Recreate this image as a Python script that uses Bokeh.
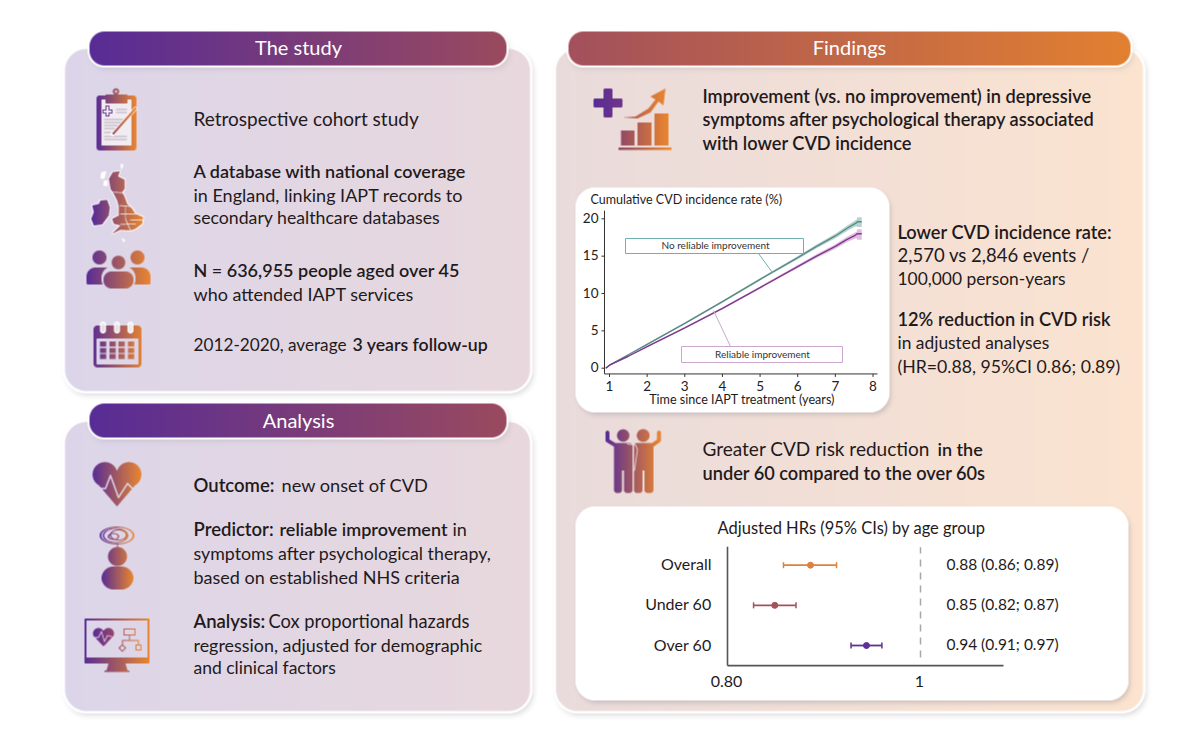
import numpy as np
from bokeh.core.properties import value
from bokeh.embed import file_html
from bokeh.models import Range1d
from bokeh.plotting import figure
from bokeh.resources import INLINE

# ---------- chart data ----------
YEARS = [0.9, 1, 1.5, 2, 3, 4, 5, 6, 6.5, 7, 7.3, 7.5, 7.57, 7.58, 7.7]
NO_IMPROVE = [0, 0.4, 1.8, 3.2, 6.0, 8.9, 11.9, 14.8, 16.3, 17.7, 18.7, 19.3, 19.5, 19.6, 19.6]
NO_IMPROVE_LO = [0, 0.35, 1.72, 3.1, 5.88, 8.77, 11.75, 14.6, 16.05, 17.4, 18.35, 18.9, 19.0, 18.9, 18.9]
NO_IMPROVE_HI = [0, 0.45, 1.88, 3.3, 6.12, 9.03, 12.05, 15.0, 16.55, 18.0, 19.05, 19.7, 19.9, 20.2, 20.2]
IMPROVE = [0, 0.4, 1.6, 2.9, 5.4, 8.0, 10.8, 13.6, 15.0, 16.3, 17.2, 17.7, 17.95, 18.0, 18.0]
IMPROVE_LO = [0, 0.35, 1.52, 2.8, 5.28, 7.87, 10.65, 13.4, 14.75, 16.0, 16.85, 17.3, 17.4, 17.2, 17.2]
IMPROVE_HI = [0, 0.45, 1.68, 3.0, 5.52, 8.13, 10.95, 13.8, 15.25, 16.6, 17.55, 18.1, 18.3, 18.6, 18.6]
YEAR_TICKS = [1, 2, 3, 4, 5, 6, 7, 8]
RATE_TICKS = [0, 5, 10, 15, 20]

AGE_GROUPS = ["Overall", "Under 60", "Over 60"]
ROWS = [3, 2, 1]
HR = [0.886, 0.849, 0.944]
HR_LO = [0.858, 0.827, 0.928]
HR_HI = [0.913, 0.871, 0.960]
HR_TEXT = ["0.88 (0.86; 0.89)", "0.85 (0.82; 0.87)", "0.94 (0.91; 0.97)"]
HR_COLORS = ["#e0813a", "#a4525a", "#5f3096"]
HR_TICKS = [0.8, 1]
HR_TICK_TEXT = ["0.80", "1"]

# ---------- raster decoration (panels, pills, icons) ----------
W, H = 1200, 742
PUR, ORG = (0x58, 0x2c, 0x96), (0xea, 0x86, 0x2e)
yy, xx = np.mgrid[0:H, 0:W] + 0.5
canvas = np.ones((H, W, 3), float) * 255


def rr_sdf(x0, y0, x1, y1, r, X=xx, Y=yy):
    cx, cy, hx, hy = (x0 + x1) / 2, (y0 + y1) / 2, (x1 - x0) / 2 - r, (y1 - y0) / 2 - r
    qx, qy = np.abs(X - cx) - hx, np.abs(Y - cy) - hy
    return np.hypot(np.maximum(qx, 0), np.maximum(qy, 0)) + np.minimum(np.maximum(qx, qy), 0) - r


def comp(color, alpha):
    alpha = alpha[..., None]
    canvas[:] = canvas * (1 - alpha) + np.asarray(color, float) * alpha


def hgrad(c0, c1, x0, x1, X=xx):
    t = np.clip((X - x0) / (x1 - x0), 0, 1)[..., None]
    return np.asarray(c0, float) * (1 - t) + np.asarray(c1, float) * t


def cover(d):
    return np.clip(0.5 - d, 0, 1)


def card(x0, y0, x1, y1, r, c0, c1, rim=2.5, shadow=0.22):
    d = rr_sdf(x0 + 2, y0 + 3, x1 + 2, y1 + 3, r)
    comp((120, 120, 130), shadow * np.clip(1 - (d + 3) / 8, 0, 1) ** 2)
    comp((255, 255, 255), cover(rr_sdf(x0, y0, x1, y1, r)))
    comp(hgrad(c0, c1, x0, x1), cover(rr_sdf(x0 + rim, y0 + rim, x1 - rim, y1 - rim, r - rim)))


card(62, 46, 532, 393, 24, (0xdc, 0xd5, 0xe9), (0xe8, 0xd8, 0xdd))
card(62, 419, 532, 713, 24, (0xdc, 0xd5, 0xe9), (0xe8, 0xd8, 0xdd))
card(553, 46, 1145, 713, 24, (0xe9, 0xdb, 0xdc), (0xfb, 0xe3, 0xcf))
card(87, 29, 508, 67, 17, (0x57, 0x2c, 0x96), (0x9a, 0x4a, 0x5e), rim=2, shadow=0.15)
card(87, 401, 508, 439, 17, (0x57, 0x2c, 0x96), (0x9a, 0x4a, 0x5e), rim=2, shadow=0.15)
card(566, 29, 1132, 67, 17, (0xa2, 0x50, 0x5c), (0xe2, 0x80, 0x30), rim=2, shadow=0.15)
card(575, 187, 889, 412, 20, (255, 255, 255), (255, 255, 255), rim=0, shadow=0.3)
card(575, 506, 1128, 700, 20, (255, 255, 255), (255, 255, 255), rim=0, shadow=0.3)

SS = 4


def circle(cx, cy, r):
    return lambda X, Y: np.hypot(X - cx, Y - cy) <= r


def ring(cx, cy, rx, ry, w):
    return lambda X, Y: np.abs(np.sqrt(((X - cx) / rx) ** 2 + ((Y - cy) / ry) ** 2) - 1) * min(rx, ry) <= w / 2


def rrect(x0, y0, x1, y1, r=0.01):
    return lambda X, Y: rr_sdf(x0, y0, x1, y1, r, X, Y) <= 0


def poly(pts, off=(0, 0)):
    pts = np.asarray(pts, float) + off

    def f(X, Y):
        inside = np.zeros(X.shape, bool)
        n = len(pts)
        for i in range(n):
            (ax, ay), (bx, by) = pts[i], pts[(i + 1) % n]
            if ay == by:
                continue
            cond = (ay > Y) != (by > Y)
            inside ^= cond & (X < (bx - ax) * (Y - ay) / (by - ay) + ax)
        return inside

    return f


def polyline(pts, w):
    def f(X, Y):
        out = np.zeros(X.shape, bool)
        for (ax, ay), (bx, by) in zip(pts[:-1], pts[1:]):
            dx, dy = bx - ax, by - ay
            t = np.clip(((X - ax) * dx + (Y - ay) * dy) / (dx * dx + dy * dy + 1e-9), 0, 1)
            out |= np.hypot(X - ax - t * dx, Y - ay - t * dy) <= w / 2
        return out

    return f


def paint(bbox, shapes, c0=PUR, c1=ORG, grad=None):
    x0, y0, x1, y1 = bbox
    grad = grad or (x0, x1)
    ny, nx = (y1 - y0) * SS, (x1 - x0) * SS
    Y, X = np.mgrid[0:ny, 0:nx]
    X = x0 + (X + 0.5) / SS
    Y = y0 + (Y + 0.5) / SS
    m = np.zeros(X.shape, bool)
    for sign, fn in shapes:
        m = (m | fn(X, Y)) if sign == "+" else (m & ~fn(X, Y))
    cov = m.reshape(y1 - y0, SS, x1 - x0, SS).mean(axis=(1, 3))
    a = np.zeros((H, W))
    a[y0:y1, x0:x1] = cov
    comp(hgrad(c0, c1, grad[0], grad[1]), a)


WHITE = (255, 255, 255)
PAPER = (0xf1, 0xec, 0xf1)
GREY = (0xb5, 0xa9, 0xb9)
# clipboard
paint((94, 86, 138, 152), [("+", rrect(96, 95, 136, 150, 3))], grad=(96, 136))
paint((94, 86, 138, 152), [("+", rrect(101, 99, 131, 145))], PAPER, PAPER)
paint((94, 86, 138, 152), [("+", rrect(105, 94, 127, 103, 1)), ("+", circle(115.5, 91, 3.2)), ("-", circle(115.5, 91, 1.2))], grad=(96, 136))
paint((94, 86, 138, 152), [("+", rrect(105, 105, 109, 116)), ("+", rrect(102, 109, 112, 113)), ("-", rrect(106, 106, 108, 115)), ("-", rrect(103, 110, 111, 112))], PUR, (0x90, 0x50, 0x80))
paint((94, 86, 138, 152), [("+", polyline(l, 0.8)) for l in (
    [(116, 109), (126, 109)], [(116, 112), (126, 112)], [(104, 119), (122, 119)], [(104, 122), (120, 122)],
    [(104, 125), (117, 125)], [(104, 128), (114, 128)], [(104, 132), (110, 132)], [(104, 136), (126, 136)], [(104, 139), (126, 139)])], GREY, GREY)
paint((94, 86, 138, 152), [("+", polyline([(135, 108), (112, 134)], 3.6))], WHITE, WHITE)
paint((94, 86, 138, 152), [("+", polyline([(135, 108), (113, 133)], 2.2))], (0xa0, 0x50, 0x60), ORG, grad=(112, 136))
# UK map
Z = lambda pts: [(80 + a / 3, 150 + b / 3) for a, b in pts]
GB = Z([(97, 65), (118, 62), (113, 78), (133, 88), (133, 115), (125, 125), (133, 140), (140, 160), (155, 175), (165, 190), (188, 200), (185, 220), (165, 235), (150, 240), (120, 238), (95, 250), (120, 225), (100, 220), (95, 205), (115, 195), (115, 170), (110, 150), (100, 130), (90, 115), (85, 85)])
IE = Z([(35, 165), (55, 160), (60, 150), (80, 148), (88, 170), (85, 195), (65, 222), (40, 225), (32, 205), (40, 185)])
MB = (84, 150, 146, 246)
OFFS = [(dx, dy) for dx in (-0.8, 0, 0.8) for dy in (-0.8, 0, 0.8)]
ISLES = Z([(120, 40), (130, 42), (122, 60)]), Z([(62, 65), (78, 62), (72, 85), (60, 85)]), Z([(70, 90), (82, 90), (80, 108), (68, 105)]), Z([(122, 262), (134, 268), (130, 276)])
paint(MB, [("+", poly(s, o)) for s in (GB, IE) for o in OFFS] + [("+", poly(s)) for s in ISLES], WHITE, WHITE)
paint(MB, [("+", poly(GB)), ("+", poly(IE))] + [("-", polyline(Z(l), 0.7)) for l in (
    [(98, 125), (130, 127)], [(118, 165), (150, 168)], [(120, 190), (165, 190)],
    [(135, 168), (135, 205), (150, 240)], [(150, 208), (188, 208)], [(120, 222), (165, 220)])],
    PUR, ORG, grad=(92, 142))
# three people
paint((84, 248, 152, 292), [
    ("+", circle(99, 257, 7)), ("+", rrect(86, 267, 114, 290, 9)), ("+", circle(137, 257, 7)), ("+", rrect(122, 267, 150, 290, 9)),
    ("-", rrect(86, 284, 152, 292)), ("-", rrect(101, 266, 135, 290, 11)), ("-", circle(118, 262, 8.5)),
    ("+", circle(118, 262, 6.8)), ("+", rrect(103, 271, 133, 288, 8))], grad=(86, 150))
# calendar
CB = (90, 318, 144, 370)
paint(CB, [("+", rrect(93, 325, 141, 367, 4)), ("-", rrect(96, 338, 138, 364, 1))])
for cx in (102.5, 116.5, 130):
    paint(CB, [("+", rrect(cx - 3, 321, cx + 3, 333, 3)), ("-", rrect(cx - 1.3, 323, cx + 1.3, 331, 1.3))], WHITE, WHITE)
    paint(CB, [("+", rrect(cx - 1.2, 322, cx + 1.2, 332, 1.2))], PAPER, PAPER)
paint(CB, [("+", rrect(a, b, a + 6.3, b + 5)) for a in (99.5, 109, 118, 127.5) for b in (341, 347.5, 353.5)], grad=(93, 141))
# heart
paint((90, 460, 143, 508), [("+", circle(104.5, 474, 12.4)), ("+", circle(128.5, 474, 12.4)), ("+", poly([(92.6, 478), (116.5, 506), (140.4, 478), (116.5, 470)])),
                            ("-", polyline([(90, 488), (105, 488), (110, 475), (118, 497), (127, 483), (132, 488), (143, 488)], 1.5))], grad=(92, 141))
# person with tangled thoughts
TB = (98, 524, 136, 591)
paint(TB, [("+", ring(116.5, 535, 16.5, 8.5, 0.9)), ("+", ring(115, 535, 12, 7, 0.9)), ("+", ring(118, 534.5, 8, 5, 0.9)), ("+", ring(113, 536, 5, 3, 0.9)),
           ("+", polyline([(117, 543), (117, 548)], 1)), ("+", circle(117, 556, 9.5)), ("+", rrect(101, 566, 133, 589, 12))], grad=(101, 133))
# monitor
MO = (82, 616, 151, 673)
paint(MO, [("+", rrect(84, 618, 149, 663, 1)), ("-", rrect(86, 620, 147, 657)),
           ("+", poly([(108, 663), (125, 663), (127, 670), (106, 670)])), ("+", rrect(104, 670, 129, 671.5))], grad=(84, 149))
paint(MO, [("+", circle(98, 633, 5.5)), ("+", circle(108, 633, 5.5)), ("+", poly([(92.7, 635), (103, 646), (113.3, 635), (103, 630)])),
           ("-", polyline([(92, 637), (98, 637), (101, 631), (104, 641), (107, 635), (114, 637)], 0.8))], PUR, (0x9a, 0x45, 0x6a), grad=(92, 114))
FC = [("+", rrect(123, 628, 135, 635)), ("-", rrect(124, 629, 134, 634)), ("+", polyline([(129, 635), (129, 640), (122, 640), (122, 644)], 0.8)), ("+", polyline([(129, 640), (138, 640), (138, 644)], 0.8)),
      ("+", poly([(122, 643.5), (126, 647.5), (122, 651.5), (118, 647.5)])), ("-", poly([(122, 645), (124.5, 647.5), (122, 650), (119.5, 647.5)])),
      ("+", rrect(135, 644, 141, 650)), ("-", rrect(136, 645, 140, 649))]
paint(MO, FC, (0xa0, 0x50, 0x60), ORG, grad=(118, 141))
# cross and rising bars
CR = (590, 85, 674, 151)
paint(CR, [("+", rrect(603, 88, 612, 117, 1.5)), ("+", rrect(593, 98, 622, 107, 1.5))], PUR, (0x70, 0x35, 0x88), grad=(593, 622))
paint(CR, [("+", poly([(622, 117), (635, 116), (648, 108), (655, 99), (650, 96), (665, 88), (663, 105), (658, 101), (650, 112), (637, 118)]))], (0xa5, 0x55, 0x5c), ORG, grad=(622, 665))
paint(CR, [("+", rrect(620.5, 130, 634, 145)), ("+", rrect(637, 122, 651, 145)), ("+", rrect(654, 113, 668, 145)), ("+", rrect(618, 147, 671, 149.5))], (0x92, 0x48, 0x66), ORG, grad=(620, 668))
# two friends
PP = (603, 425, 662, 495)
paint(PP, [("+", circle(622.7, 435, 6.2)), ("+", rrect(613.5, 442.5, 632, 470, 3)), ("+", rrect(613.5, 460, 621.5, 492.5, 3)), ("+", rrect(623.5, 460, 632, 492.5, 3)),
           ("+", polyline([(617, 446), (607, 440), (607, 432)], 3.8)),
           ("+", circle(642.7, 435, 6.4)), ("+", rrect(633.5, 442.5, 653, 470, 3)), ("+", rrect(633.5, 460, 642, 492.5, 3)), ("+", rrect(644, 460, 653, 492.5, 3)),
           ("+", polyline([(650, 446), (658.5, 440), (658.5, 432)], 3.8)),
           ("-", polyline([(627, 443.5), (635, 444.5), (637, 449), (634, 470)], 0.9))], grad=(606, 660))

rgba = np.dstack([canvas, np.full((H, W), 255.0)]).round().astype(np.uint8)[::-1]
bg = rgba.view(dtype=np.uint32).reshape(H, W)

# ---------- figure: one surface whose main scales are page pixels ----------
p = figure(width=W, height=H, x_range=Range1d(0, W), y_range=Range1d(0, H), toolbar_location=None,
           output_backend="svg", min_border=0, outline_line_color=None, x_axis_type=None, y_axis_type=None)
p.xgrid.visible = p.ygrid.visible = False
p.image_rgba(image=[bg], x=0, y=0, dw=W, dh=H)

FONT = "Lato"
MED = "Lato Semibold"
INK = "#1f1a1c"


def Y(py):
    return H - py


def put(x, py, s, size=18, med=False, align="left", color=INK):
    p.text([x], [Y(py - 0.7)], text=[s], text_font=value(MED if med else FONT), text_font_size=f"{size}px", text_color=color,
           text_align=align, text_baseline="middle")


for (x, y, s) in ((298, 47, "The study"), (298, 420, "Analysis"), (849, 47, "Findings")):
    put(x, y, s, 20, False, "center", "#ffffff")

put(193, 119, "Retrospective cohort study", 19)
put(193, 171, "A database with national coverage", med=True)
put(193, 195, "in England, linking IAPT records to")
put(193, 218, "secondary healthcare databases", 17.7)
put(193, 270, "N = 636,955 people aged over 45", med=True)
put(193, 294, "who attended IAPT services")
put(193, 345, "2012-2020, average", 17.2)
put(352, 345, "3 years follow-up", 17.7, med=True)

put(193, 485, "Outcome:", 18.5, med=True)
put(281, 485, "new onset of CVD", 18.2)
put(193, 529, "Predictor:", 18.5, med=True)
put(279, 529, "reliable improvement", 18, med=True)
put(452, 529, "in")
put(193, 553, "symptoms after psychological therapy,", 17.8)
put(193, 577, "based on established NHS criteria")
put(193, 621, "Analysis:", 18.5, med=True)
put(268, 621, "Cox proportional hazards", 18.3)
put(193, 645, "regression, adjusted for demographic", 17.9)
put(193, 668, "and clinical factors", 17.5)

put(702, 96, "Improvement (vs. no improvement) in depressive", 18.2, med=True)
put(702, 119, "symptoms after psychological therapy associated", 18.2, med=True)
put(702, 143, "with lower CVD incidence", 18.2, med=True)
put(897, 232, "Lower CVD incidence rate:", 18.2, med=True)
put(897, 255, "2,570 vs 2,846 events /", 18.5)
put(897, 279, "100,000 person-years", 17.4)
put(897, 319, "12% reduction in CVD risk", 18.2, med=True)
put(897, 343, "in adjusted analyses", 17.4)
put(897, 367, "(HR=0.88, 95%CI 0.86; 0.89)", 17.7)
put(702, 449, "Greater CVD risk reduction", 19)
put(937, 449, "in the", med=True)
put(702, 473, "under 60 compared to the over 60s", 18.2, med=True)


def span(d0, px0, d1, px1, lo, hi):
    """Range whose linear mapping onto the page sends d0->px0 and d1->px1."""
    k = (d1 - d0) / (px1 - px0)
    return Range1d(d0 + (lo - px0) * k, d0 + (hi - px0) * k)


p.extra_x_ranges = {"years": span(1, 609, 8, 872.5, 0, W), "hr": span(0.8, 727, 1, 920, 0, W)}
p.extra_y_ranges = {"rate": span(0, 367.7, 20, 218.3, H, 0), "row": span(3, 564.7, 1, 645, H, 0)}

# ---------- cumulative incidence chart ----------
c1 = dict(x_range_name="years", y_range_name="rate")
p.varea(YEARS, NO_IMPROVE_LO, NO_IMPROVE_HI, fill_color="#9cc4bf", fill_alpha=0.75, **c1)
p.varea(YEARS, IMPROVE_LO, IMPROVE_HI, fill_color="#d8a6d6", fill_alpha=0.75, **c1)
p.line(YEARS, NO_IMPROVE, line_color="#5a8a86", line_width=1.4, **c1)
p.line(YEARS, IMPROVE, line_color="#7b3a8c", line_width=1.4, **c1)

X0, X1, R0, R1 = 0.867, 8.12, -0.77, 21.1
AXC = "#333333"
p.segment([X0, X0], [R0, R0], [X1, X0], [R0, R1], line_color=AXC, line_width=1, **c1)
p.segment(YEAR_TICKS, [R0] * len(YEAR_TICKS), YEAR_TICKS, [R0 - 0.4] * len(YEAR_TICKS), line_color=AXC, line_width=1, **c1)
p.segment([X0] * len(RATE_TICKS), RATE_TICKS, [X0 - 0.08] * len(RATE_TICKS), RATE_TICKS, line_color=AXC, line_width=1, **c1)
p.text(YEAR_TICKS, [R0] * len(YEAR_TICKS), text=[str(t) for t in YEAR_TICKS], y_offset=12, text_align="center", text_baseline="middle",
       text_font=value(FONT), text_font_size="13.5px", text_color="#222222", **c1)
p.text([X0] * len(RATE_TICKS), RATE_TICKS, text=[str(t) for t in RATE_TICKS], x_offset=-6, y_offset=-1, text_align="right", text_baseline="middle",
       text_font=value(FONT), text_font_size="13.5px", text_color="#222222", **c1)
put(590, 200, "Cumulative CVD incidence rate (%)", 12.5)
put(741.5, 399.7, "Time since IAPT treatment (years)", 12.6, align="center")

TEAL, PINK = "#6fb0ae", "#cba6cd"
p.segment([758], [Y(253)], [772], [Y(272)], line_color=TEAL, line_width=1)
p.segment([730], [Y(346)], [713], [Y(310)], line_color=PINK, line_width=1)
p.quad(left=[625], right=[803], top=[Y(238)], bottom=[Y(253)], fill_color="#ffffff", line_color=TEAL, line_width=1)
p.quad(left=[681], right=[842], top=[Y(346)], bottom=[Y(362)], fill_color="#ffffff", line_color=PINK, line_width=1)
put(715, 245.5, "No reliable improvement", 10, align="center", color="#333333")
put(762, 354, "Reliable improvement", 10, align="center", color="#333333")

# ---------- forest plot ----------
c2 = dict(x_range_name="hr", y_range_name="row")
ref = p.segment([1], [0.7], [1], [3.45], line_color="#a8a8a8", line_width=1.5, **c2)
ref.glyph.line_dash = [7, 6]
p.segment(HR_LO, ROWS, HR_HI, ROWS, line_color=HR_COLORS, line_width=1.8, **c2)
for edge in (HR_LO, HR_HI):
    p.scatter(edge, ROWS, marker="dash", angle=np.pi / 2, size=6, line_color=HR_COLORS, line_width=1.5, **c2)
p.scatter(HR, ROWS, size=6, fill_color=HR_COLORS, line_color=HR_COLORS, **c2)

AX2 = "#555555"
p.segment([0.8, 0.8], [0.5, 0.5], [1.086, 0.8], [0.5, 3.46], line_color=AX2, line_width=1.6, **c2)
p.text(HR_TICKS, [0.5, 0.5], text=HR_TICK_TEXT, y_offset=16, x_offset=-1, text_align="center", text_baseline="middle",
       text_font=value(FONT), text_font_size="16px", text_color=INK, **c2)
p.text([0.8] * 3, ROWS, text=AGE_GROUPS, x_offset=-16, y_offset=-1.5, text_align="right", text_baseline="middle",
       text_font=value(FONT), text_font_size="16px", text_color=INK, **c2)
put(851, 528, "Adjusted HRs (95% CIs) by age group", 16.5, align="center")
for py, s in zip((564, 604, 644), HR_TEXT):
    put(946, py, s, 15.5)

open("out.html", "w").write(file_html(p, INLINE))
